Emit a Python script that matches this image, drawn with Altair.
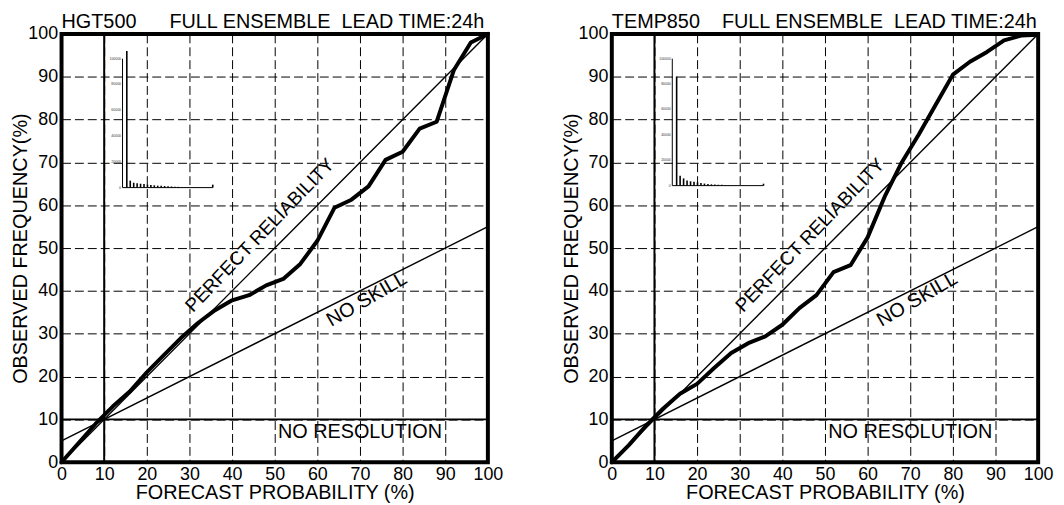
import altair as alt
import pandas as pd

# ---------------- data ----------------
prob = [0, 4, 8, 12, 16, 20, 24, 28, 32, 36, 40, 44, 48, 52,
        56, 60, 64, 68, 72, 76, 80, 84, 88, 92, 96, 100]

hgt_obs = [0, 4.5, 9, 13, 16.5, 21, 25, 29, 32.5, 35.5, 37.8, 39, 41.3, 42.8,
           46.3, 51.7, 59.4, 61.3, 64.4, 70.6, 72.5, 77.9, 79.5, 91.5, 98, 100]

temp_obs = [0, 4, 8.5, 12.5, 16, 18.3, 22, 25.5, 27.8, 29.4, 32.1, 36, 39, 44.4,
            46, 52.5, 62, 70, 76.5, 83.5, 90.5, 93.5, 95.8, 98.5, 99.6, 99.8]

hgt_hist = [106000, 5400, 3800, 3400, 3000, 2700, 2300, 2000, 1800, 1500, 1400, 1200, 1000,
            850, 750, 600, 500, 450, 380, 300, 270, 230, 200, 180, 220, 2300]

temp_hist = [86000, 7800, 5700, 4000, 3400, 3100, 2600, 2100, 1600, 1200, 1000, 900, 700,
             600, 450, 350, 250, 200, 150, 100, 80, 60, 50, 40, 30, 1500]

ticks = [0, 10, 20, 30, 40, 50, 60, 70, 80, 90, 100]
inset_ticks = [0, 20000, 40000, 60000, 80000, 100000]
inset_tick_labels = ["0", "20000", "40000", "60000", "80000", "100000"]

clim = 10
perfect_x = [0, 100]
perfect_y = [0, 100]
noskill_x = [0, 100]
noskill_y = [5, 55]

label_text = ["PERFECT RELIABILITY", "NO SKILL", "NO RESOLUTION"]
label_x = [46.5, 71.6, 70]
label_y = [53, 38, 7]
label_angle = [314, 330, 0]

NB = "\u00a0"


def panel(name, obs, hist, gap, ix_range, iy_range):
    X = alt.X("x:Q", scale=alt.Scale(domain=[0, 100], nice=False, zero=False),
              axis=alt.Axis(values=ticks, title="FORECAST PROBABILITY (%)",
                            labelPadding=3, titlePadding=0))
    Y = alt.Y("y:Q", scale=alt.Scale(domain=[0, 100], nice=False, zero=False),
              axis=alt.Axis(values=ticks, title="OBSERVED FREQUENCY(%)",
                            labelPadding=4, titlePadding=-3))

    ref = pd.DataFrame({
        "x": perfect_x + noskill_x,
        "y": perfect_y + noskill_y,
        "k": ["perfect"] * 2 + ["noskill"] * 2,
    })
    refl = alt.Chart(ref).mark_line(color="black", strokeWidth=1.4).encode(
        x=X, y=Y, detail="k:N")

    vline = alt.Chart(pd.DataFrame({"x": [clim]})).mark_rule(
        color="black", strokeWidth=2).encode(x=X)
    hline = alt.Chart(pd.DataFrame({"y": [clim]})).mark_rule(
        color="black", strokeWidth=1.6).encode(y=Y)

    curve = alt.Chart(pd.DataFrame({"x": prob, "y": obs})).mark_line(
        color="black", strokeWidth=4, strokeJoin="round", strokeCap="round").encode(x=X, y=Y)

    texts = []
    for t, xx, yy, a in zip(label_text, label_x, label_y, label_angle):
        texts.append(
            alt.Chart(pd.DataFrame({"x": [xx], "y": [yy], "t": [t]})).mark_text(
                angle=a, fontSize=19 if t.startswith("PERFECT") else 20,
                align="center", baseline="middle", color="black").encode(
                x=X, y=Y, text="t:N"))

    main = alt.layer(refl, vline, hline, curve, *texts)

    IX = alt.X("b:Q", scale=alt.Scale(domain=[-5, 100], range=ix_range, nice=False, zero=False),
               axis=None)
    IY = alt.Y("c:Q", scale=alt.Scale(domain=[0, 100000], range=iy_range, nice=False, zero=False),
               axis=None)

    bars = alt.Chart(pd.DataFrame({"b": prob, "c": hist, "z": [0] * len(prob)})).mark_rule(
        color="black", strokeWidth=1.6).encode(x=IX, y=IY, y2="z:Q")
    vaxis = alt.Chart(pd.DataFrame({"b": [-5], "c": [0], "c2": [100000]})).mark_rule(
        color="black", strokeWidth=1).encode(x=IX, y=IY, y2="c2:Q")
    haxis = alt.Chart(pd.DataFrame({"b": [-5], "b2": [100], "c": [0]})).mark_rule(
        color="black", strokeWidth=1).encode(x=IX, x2="b2:Q", y=IY)
    ilabels = alt.Chart(pd.DataFrame({"b": [-5] * len(inset_ticks), "c": inset_ticks,
                                      "t": inset_tick_labels})).mark_text(
        fontSize=3.5, align="right", baseline="middle", dx=-1.5, color="#333").encode(
        x=IX, y=IY, text="t:N")
    inset = alt.layer(bars, vaxis, haxis, ilabels)

    title = name + NB * gap + "FULL ENSEMBLE" + NB * 2 + "LEAD TIME:24h"
    return alt.layer(main, inset).resolve_scale(x="independent", y="independent").properties(
        width=430, height=432, title=title)


left = panel("HGT500", hgt_obs, hgt_hist, 6, [61.5, 152.5], [155, 25])
right = panel("TEMP850", temp_obs, temp_hist, 4, [61, 153], [153, 25])

chart = alt.hconcat(left, right, spacing=125, bounds="flush").properties(
    padding=0
).configure(
    font="Liberation Sans"
).configure_view(
    stroke="black", strokeWidth=4
).configure_axis(
    labelFontSize=18, titleFontSize=20, titleFontWeight="normal",
    labelColor="black", titleColor="black", domain=False, ticks=False,
    grid=True, gridColor="black", gridDash=[9, 4], gridWidth=1, gridOpacity=1,
    labelFlush=False
).configure_title(
    fontSize=20, fontWeight="normal", anchor="start", frame="group", offset=-7, color="black"
)

chart.save("out.html", embed_options={"renderer": "svg", "actions": False})
